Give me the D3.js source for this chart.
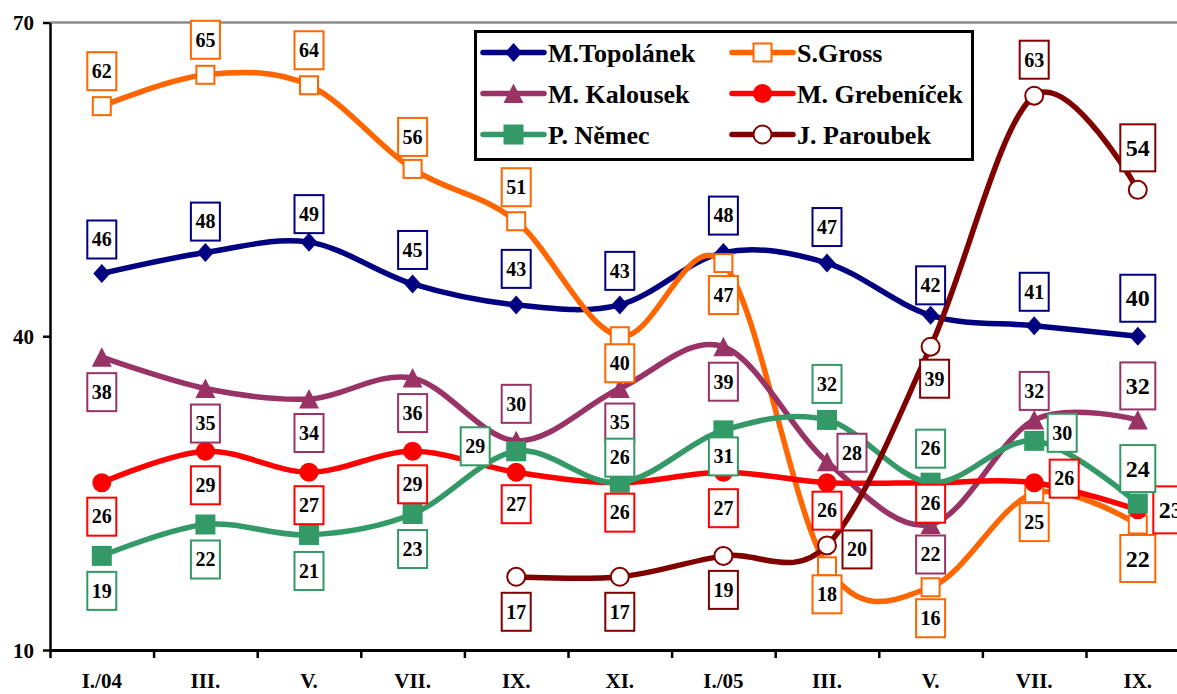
<!DOCTYPE html>
<html>
<head>
<meta charset="utf-8">
<script src="https://cdn.jsdelivr.net/npm/d3@7"></script>
<style>
  html, body { margin: 0; padding: 0; background: #fff; }
  svg { display: block; }
  text { font-family: "Liberation Serif", "Times New Roman", serif; font-weight: bold; fill: #000; }
</style>
</head>
<body>
<svg id="chart" width="1177" height="694"></svg>
<script>
// ---------- data ----------
const categories = ["I./04", "III.", "V.", "VII.", "IX.", "XI.", "I./05", "III.", "V.", "VII.", "IX."];
const yTicks = [10, 40, 70];

const topolanek  = [46, 48, 49, 45, 43, 43, 48, 47, 42, 41, 40];
const gross      = [62, 65, 64, 56, 51, 40, 47, 18, 16, 25, 22];
const kalousek   = [38, 35, 34, 36, 30, 35, 39, 28, 22, 32, 32];
const grebenicek = [26, 29, 27, 29, 27, 26, 27, 26, 26, 26, 23.4];
const nemec      = [19, 22, 21, 23, 29, 26, 31, 32, 26, 30, 24];
const paroubek   = [null, null, null, null, 17, 17, 19, 20, 39, 63, 54];

const seriesNames = ["M.Topolánek", "S.Gross", "M. Kalousek", "M. Grebeníček", "P. Němec", "J. Paroubek"];

// label placement (offset of label box centre from point, px)
const topolanekLbl  = [[0,-34],[0,-31],[0,-28],[0,-34],[0,-36],[0,-34],[0,-37],[0,-36],[0,-30],[0,-34],[0,-38]];
const grossLbl      = [[0,-35],[0,-35],[0,-35],[0,-32],[0,-34],[0,27],[0,32],[0,28],[0,31],[0,29],[0,34]];
const kalousekLbl   = [[0,35],[0,35],[0,34],[0,35],[0,-37],[0,34],[0,35],[25,-9],[0,30],[0,-29],[0,-34]];
const grebenicekLbl = [[0,34],[0,34],[0,33],[0,33],[0,32],[0,30],[0,36],[0,28],[0,21],[30,-4],[33,0]];
const nemecLbl      = [[0,35],[0,35],[0,36],[0,35],[-41,-5],[0,-25],[0,26],[0,-36],[0,-34],[28,-8],[0,-35]];
const paroubekLbl   = [null,null,null,null,[0,35],[0,35],[0,34],[30,4],[4,32],[0,-36],[0,-42]];

// ---------- styles ----------
const series = [
  { name: seriesNames[0], values: topolanek,  color: "#000080", marker: "diamond",    lbl: topolanekLbl },
  { name: seriesNames[1], values: gross,      color: "#FF6600", marker: "openSquare", lbl: grossLbl },
  { name: seriesNames[2], values: kalousek,   color: "#993366", marker: "triangle",   lbl: kalousekLbl },
  { name: seriesNames[3], values: grebenicek, color: "#FF0000", marker: "circle",     lbl: grebenicekLbl },
  { name: seriesNames[4], values: nemec,      color: "#339966", marker: "square",     lbl: nemecLbl },
  { name: seriesNames[5], values: paroubek,   color: "#800000", marker: "openCircle", lbl: paroubekLbl }
];

const svg = d3.select("#chart");
const left = 50, bandW = 103.6;
const x = d3.scaleBand().domain(d3.range(categories.length)).range([left, left + bandW * categories.length]).padding(0);
const xEdge = d3.scaleLinear().domain([0, categories.length]).range([left, left + bandW * categories.length]);
const y = d3.scaleLinear().domain([10, 70]).range([650, 22.5]);
const cx = i => x(i) + x.bandwidth() / 2;

// top border (gray)
svg.append("line")
  .attr("x1", left).attr("x2", 1177)
  .attr("y1", y(70)).attr("y2", y(70))
  .attr("stroke", "#8c8c8c").attr("stroke-width", 2.5);

// y axis
const yAxis = svg.append("g").attr("transform", `translate(${left},0)`)
  .call(d3.axisLeft(y).tickValues(yTicks).tickSize(7).tickSizeOuter(0).tickPadding(9).tickFormat(d3.format("d")));
yAxis.select(".domain").attr("stroke", "#000").attr("stroke-width", 2.5);
yAxis.selectAll(".tick line").attr("stroke", "#000").attr("stroke-width", 2.5);
yAxis.selectAll(".tick text").style("font-size", "21px").style("font-family", "'Liberation Serif', serif").style("font-weight", "bold").attr("fill", "#000").attr("dy", "0.34em");

// x axis: boundary ticks
const xTickAxis = svg.append("g").attr("transform", `translate(0,${y(10)})`)
  .call(d3.axisBottom(xEdge).tickValues(d3.range(categories.length + 1)).tickSize(8).tickSizeOuter(0).tickFormat(""));
xTickAxis.select(".domain").attr("stroke", "#000").attr("stroke-width", 3);
xTickAxis.selectAll(".tick line").attr("stroke", "#000").attr("stroke-width", 2.5);

// x axis: category labels
const xLabAxis = svg.append("g").attr("transform", `translate(0,${y(10)})`)
  .call(d3.axisBottom(x).tickSize(0).tickPadding(23).tickFormat(i => categories[i]));
xLabAxis.select(".domain").remove();
xLabAxis.selectAll(".tick text").style("font-size", "21px").style("font-family", "'Liberation Serif', serif").style("font-weight", "bold").attr("fill", "#000");

// ---------- markers ----------
function drawMarker(g, type, color) {
  switch (type) {
    case "diamond":
      g.append("path").attr("d", "M0,-9.5L8.5,0L0,9.5L-8.5,0Z").attr("fill", color); break;
    case "openSquare":
      g.append("rect").attr("x", -9).attr("y", -9).attr("width", 18).attr("height", 18)
        .attr("fill", "#fff").attr("stroke", color).attr("stroke-width", 2); break;
    case "triangle":
      g.append("path").attr("d", "M0,-10L10,9.5L-10,9.5Z").attr("fill", color); break;
    case "circle":
      g.append("circle").attr("r", 9.5).attr("fill", color); break;
    case "square":
      g.append("rect").attr("x", -10).attr("y", -10).attr("width", 20).attr("height", 20).attr("fill", color); break;
    case "openCircle":
      g.append("circle").attr("r", 9).attr("fill", "#fff").attr("stroke", color).attr("stroke-width", 2); break;
  }
}

const line = d3.line()
  .defined(d => d.v !== null)
  .x(d => cx(d.i)).y(d => y(d.v))
  .curve(d3.curveCardinal.tension(0));

const plot = svg.append("g");
series.forEach(s => {
  const pts = s.values.map((v, i) => ({ i, v }));
  const g = plot.append("g");
  g.append("path").datum(pts).attr("d", line)
    .attr("fill", "none").attr("stroke", s.color).attr("stroke-width", 5.5)
    .attr("stroke-linejoin", "round").attr("stroke-linecap", "round");
  pts.filter(d => d.v !== null).forEach(d => {
    const mg = g.append("g").attr("transform", `translate(${cx(d.i)},${y(d.v)})`);
    drawMarker(mg, s.marker, s.color);
  });
});

// ---------- data labels ----------
const labels = svg.append("g");
series.forEach(s => {
  s.values.forEach((v, i) => {
    if (v === null) return;
    const off = s.lbl[i];
    const big = i === categories.length - 1;
    const w = big ? 35 : 29, h = big ? 47 : 38, fs = big ? 24 : 20;
    const px = cx(i) + off[0], py = y(v) + off[1];
    const lg = labels.append("g").attr("transform", `translate(${px},${py})`);
    lg.append("rect").attr("x", -w / 2).attr("y", -h / 2).attr("width", w).attr("height", h)
      .attr("fill", "#fff").attr("stroke", s.color).attr("stroke-width", 2);
    lg.append("text").attr("text-anchor", "middle").attr("dy", "0.34em")
      .style("font-size", fs + "px").text(Math.round(v));
  });
});

// ---------- legend ----------
const legend = svg.append("g");
legend.append("rect").attr("x", 475.5).attr("y", 31.5).attr("width", 497).attr("height", 128)
  .attr("fill", "#fff").attr("stroke", "#000").attr("stroke-width", 3);
const colX = [483, 732];
const rowBase = [62, 103, 144];
series.forEach((s, k) => {
  const col = k % 2, row = Math.floor(k / 2);
  const x0 = colX[col], yb = rowBase[row], ym = yb - 9.5;
  const g = legend.append("g");
  g.append("line").attr("x1", x0).attr("x2", x0 + 61).attr("y1", ym).attr("y2", ym)
    .attr("stroke", s.color).attr("stroke-width", 5.5).attr("stroke-linecap", "round");
  const mg = g.append("g").attr("transform", `translate(${x0 + 30.5},${ym})`);
  drawMarker(mg, s.marker, s.color);
  g.append("text").attr("x", x0 + 65).attr("y", yb).style("font-size", "26px").text(s.name);
});
</script>
</body>
</html>
